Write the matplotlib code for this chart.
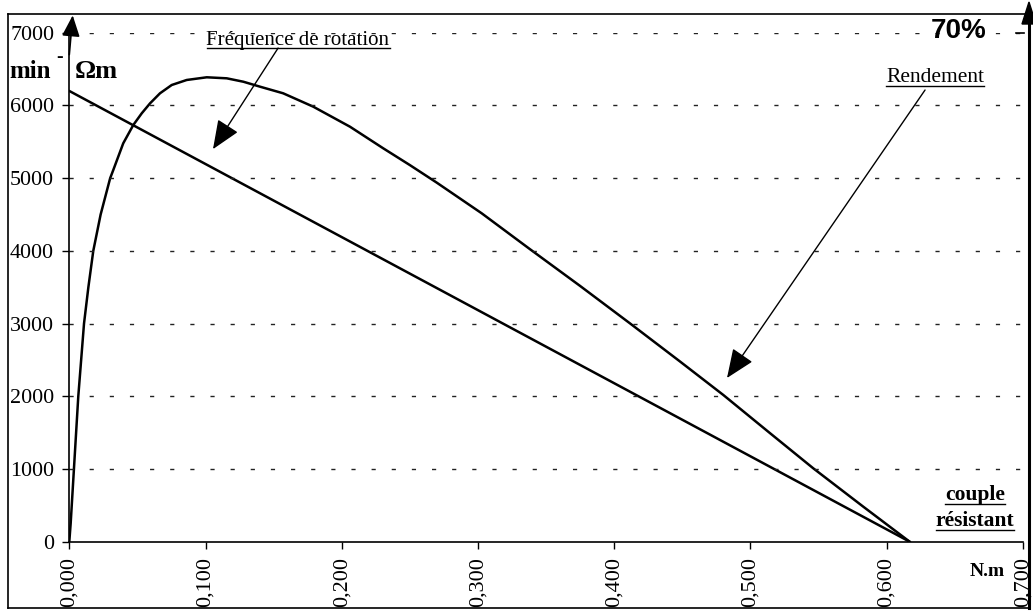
import matplotlib

matplotlib.use("Agg")
import matplotlib.pyplot as plt
from matplotlib.lines import Line2D

# couple résistant (N.m) -> fréquence de rotation (min-1)
speed_torque = [0.0, 0.617]
speed_values = [6200, 0]

# rendement, drawn on the same scale (7000 = 70 %)
eff_torque = [0.0, 0.001, 0.0034, 0.0066, 0.0108, 0.014, 0.0176, 0.023, 0.03,
              0.0323, 0.0396, 0.047, 0.0532, 0.0593, 0.0666, 0.0752, 0.0862,
              0.1009, 0.1156, 0.1278, 0.14, 0.157, 0.1791, 0.2061, 0.2305,
              0.25, 0.2697, 0.3028, 0.3382, 0.3749, 0.4116, 0.4483, 0.4802,
              0.5146, 0.5462, 0.583, 0.617]
eff_values = [0, 250, 1000, 2000, 3000, 3500, 4000, 4500, 5000,
              5113, 5480, 5732, 5893, 6030, 6168, 6282, 6351,
              6388, 6374, 6327, 6259, 6168, 5984, 5708, 5411,
              5181, 4940, 4517, 4024, 3520, 3004, 2480, 2018,
              1491, 1010, 481, 0]

x_ticks = [0.0, 0.1, 0.2, 0.3, 0.4, 0.5, 0.6, 0.7]
x_tick_labels = ["0,000", "0,100", "0,200", "0,300", "0,400", "0,500", "0,600", "0,700"]
y_ticks = [0, 1000, 2000, 3000, 4000, 5000, 6000, 7000]

SERIF = "Liberation Serif"
W, H = 1033, 612

fig = plt.figure(figsize=(W / 100, H / 100), dpi=100)
ax = fig.add_axes([69.3 / W, 70.3 / H, (1022.7 - 69.3) / W, (541.7 - 32.8) / H])

ax.plot(speed_torque, speed_values, color="black", lw=1.8, solid_capstyle="round")
ax.plot(eff_torque, eff_values, color="black", lw=1.8, solid_joinstyle="round")

for y in y_ticks[1:]:
    ax.plot([0, 0.7], [y, y], color="#222222", lw=1.0, linestyle=(0, (3, 11.5)))

ax.set_xlim(0, 0.7)
ax.set_ylim(0, 7000)
ax.set_xticks(x_ticks)
ax.set_xticklabels(x_tick_labels, rotation=90, fontfamily=SERIF, fontsize=16)
ax.set_yticks(y_ticks)
ax.set_yticklabels([str(v) for v in y_ticks], fontfamily=SERIF, fontsize=15.8)
ax.tick_params(axis="both", direction="out", length=5, width=1.0)
ax.tick_params(axis="y", pad=6)
ax.tick_params(axis="x", pad=6)
for side in ("top", "right"):
    ax.spines[side].set_visible(False)
for side in ("left", "bottom"):
    ax.spines[side].set_linewidth(1.2)

# vertical axis arrow
ax.annotate("", xy=(0.0025, 7240), xytext=(0.0, 6700), annotation_clip=False,
            arrowprops=dict(arrowstyle="-|>,head_length=1.3,head_width=0.55",
                            color="black", lw=1.2, shrinkA=0, shrinkB=0))

# outer frame and right (rendement) axis
frame = dict(color="black", lw=1.2)
fig.add_artist(Line2D([8 / W, 8 / W], [1 - 608 / H, 1 - 14 / H], **frame))
fig.add_artist(Line2D([8 / W, 1029 / W], [1 - 14 / H, 1 - 14 / H], **frame))
fig.add_artist(Line2D([8 / W, 1029 / W], [1 - 608 / H, 1 - 608 / H], **frame))
fig.add_artist(Line2D([1029 / W, 1029 / W], [1 - 608 / H, 1 - 22 / H], color="black", lw=2.2))
fig.patches.append(plt.Polygon([[1022 / W, 1 - 24 / H], [1036 / W, 1 - 24 / H], [1029 / W, 1 - 2 / H]],
                               closed=True, color="black", transform=fig.transFigure, figure=fig))
fig.add_artist(Line2D([1016 / W, 1024 / W], [1 - 33 / H, 1 - 33 / H], **frame))

# axis labels
fig.text(9 / W, 1 - 72 / H, "min", fontfamily=SERIF, fontweight="bold", fontsize=18, va="center")
fig.text(56 / W, 1 - 57 / H, "-", fontfamily=SERIF, fontweight="bold", fontsize=14, va="center")
fig.text(75 / W, 1 - 72 / H, "\u03a9m", fontfamily=SERIF, fontweight="bold", fontsize=19, va="center")
fig.text(987 / W, 1 - 31 / H, "70%", fontfamily="Liberation Sans", fontweight="bold",
         fontsize=20, ha="right", va="center")
fig.text(1005 / W, 1 - 572 / H, "N.m", fontfamily=SERIF, fontweight="bold", fontsize=14,
         ha="right", va="center")

underlined = [
    fig.text(298 / W, 1 - 40 / H, "Fréquence de rotation", fontfamily=SERIF, fontsize=15,
             ha="center", va="center"),
    fig.text(935 / W, 1 - 78 / H, "Rendement", fontfamily=SERIF, fontsize=15.5,
             ha="center", va="center"),
    fig.text(975 / W, 1 - 495 / H, "couple", fontfamily=SERIF, fontweight="bold", fontsize=15.5,
             ha="center", va="center"),
    fig.text(975 / W, 1 - 521 / H, "résistant", fontfamily=SERIF, fontweight="bold", fontsize=15.5,
             ha="center", va="center"),
]

# annotation arrows
head = dict(arrowstyle="-|>,head_length=1.8,head_width=0.75", color="black", lw=1.0,
            shrinkA=0, shrinkB=0)
ax.annotate("", xy=(0.1055, 5400), xytext=(0.1533, 6790), annotation_clip=False, arrowprops=head)
ax.annotate("", xy=(0.4829, 2252), xytext=(0.6283, 6213), annotation_clip=False, arrowprops=head)

fig.canvas.draw()
renderer = fig.canvas.get_renderer()
for t in underlined:
    bb = t.get_window_extent(renderer).transformed(fig.transFigure.inverted())
    fig.add_artist(Line2D([bb.x0, bb.x1], [bb.y0 + 0.002, bb.y0 + 0.002], color="black", lw=1.0))

fig.savefig("out.png", dpi=100, facecolor="white")
